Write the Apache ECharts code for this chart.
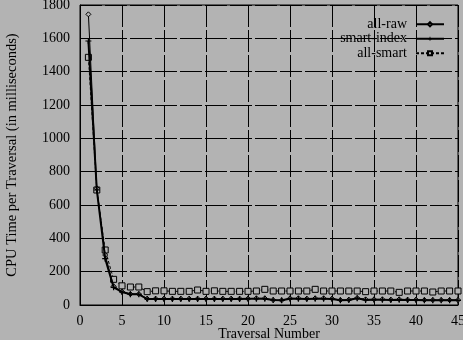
<!DOCTYPE html>
<html><head><meta charset="utf-8">
<script src="https://cdn.jsdelivr.net/npm/echarts@6/dist/echarts.min.js"></script>
<style>html,body{margin:0;padding:0;background:#b3b3b3}#c{width:463px;height:340px}</style>
</head><body><div id="c"></div>
<script>
const traversals = [1,2,3,4,5,6,7,8,9,10,11,12,13,14,15,16,17,18,19,20,21,22,23,24,25,26,27,28,29,30,31,32,33,34,35,36,37,38,39,40,41,42,43,44,45];
const allRaw = [1744,700,300,112,80,66,66,38,38,38,38,38,38,38,38,38,38,38,38,38,40,40,30,28,40,40,38,40,40,38,30,32,42,34,34,34,32,34,32,32,30,30,30,30,30];
const smartIndex = [1584,690,278,106,78,64,64,36,36,36,36,36,36,36,36,36,36,36,36,38,38,38,30,28,38,38,36,38,38,36,28,30,40,30,32,32,30,32,30,30,28,28,28,28,28];
const allSmart = [1486,690,330,154,115,108,108,80,85,85,82,82,82,90,82,85,82,82,82,82,84,94,84,84,84,84,84,94,84,84,84,84,84,80,84,84,84,76,84,84,84,78,84,84,84];
const xTicks = [0,5,10,15,20,25,30,35,40,45];
const yTicks = [0,200,400,600,800,1000,1200,1400,1600,1800];

const font = 'Liberation Serif';
const pair = a => traversals.map((x,i)=>[x,a[i]]);
const plus = 'path://M4,0H6V4H10V6H6V10H4V6H0V4H4Z';
const chart = echarts.init(document.getElementById('c'));
chart.setOption({
  backgroundColor:'#b3b3b3',
  animation:false,
  textStyle:{fontFamily:font,color:'#000'},
  grid:{left:80,right:5,top:5,bottom:35,outerBoundsMode:'none',containLabel:false,show:true,borderColor:'#000',borderWidth:1,backgroundColor:'transparent'},
  legend:{
    right:18, top:17, orient:'vertical', align:'right', itemGap:0, itemWidth:28, itemHeight:5,
    padding:0,
    textStyle:{fontFamily:font,fontSize:14,color:'#000',lineHeight:14.5,padding:[0,4,0,0]},
    data:['all-raw','smart-index','all-smart']
  },
  xAxis:{
    type:'value', min:xTicks[0], max:xTicks[xTicks.length-1], interval:5,
    name:'Traversal Number', nameLocation:'middle', nameGap:22, nameMoveOverlap:false,
    nameTextStyle:{fontFamily:font,fontSize:14,color:'#000'},
    axisLine:{lineStyle:{color:'#000'}},
    axisTick:{inside:true,length:4,lineStyle:{color:'#000'}},
    axisLabel:{fontFamily:font,fontSize:14,color:'#000',margin:9},
    splitLine:{show:true,lineStyle:{color:'#000',width:1,type:[22,3]}}
  },
  yAxis:{
    type:'value', min:yTicks[0], max:yTicks[yTicks.length-1], interval:200,
    name:'CPU Time per Traversal (in milliseconds)', nameLocation:'middle', nameGap:60, nameMoveOverlap:false,
    nameTextStyle:{fontFamily:font,fontSize:14.5,color:'#000'},
    axisLine:{lineStyle:{color:'#000'}},
    axisTick:{inside:true,length:4,lineStyle:{color:'#000'}},
    axisLabel:{fontFamily:font,fontSize:14,color:'#000',margin:10,formatter:v=>String(v)},
    splitLine:{show:true,lineStyle:{color:'#000',width:1,type:[22,3]}}
  },
  series:[
    {name:'all-raw',type:'line',data:pair(allRaw),symbol:'diamond',symbolSize:5,
     lineStyle:{color:'#000',width:1},itemStyle:{color:'#b3b3b3',borderColor:'#000',borderWidth:1},z:3},
    {name:'smart-index',type:'line',data:pair(smartIndex),symbol:plus,symbolSize:6,
     lineStyle:{color:'#000',width:2},itemStyle:{color:'#000',borderWidth:0},z:4},
    {name:'all-smart',type:'line',data:pair(allSmart),symbol:'rect',symbolSize:6,
     lineStyle:{color:'#000',width:1,type:[3,2]},itemStyle:{color:'#b3b3b3',borderColor:'#000',borderWidth:1},z:2}
  ]
});
</script></body></html>
